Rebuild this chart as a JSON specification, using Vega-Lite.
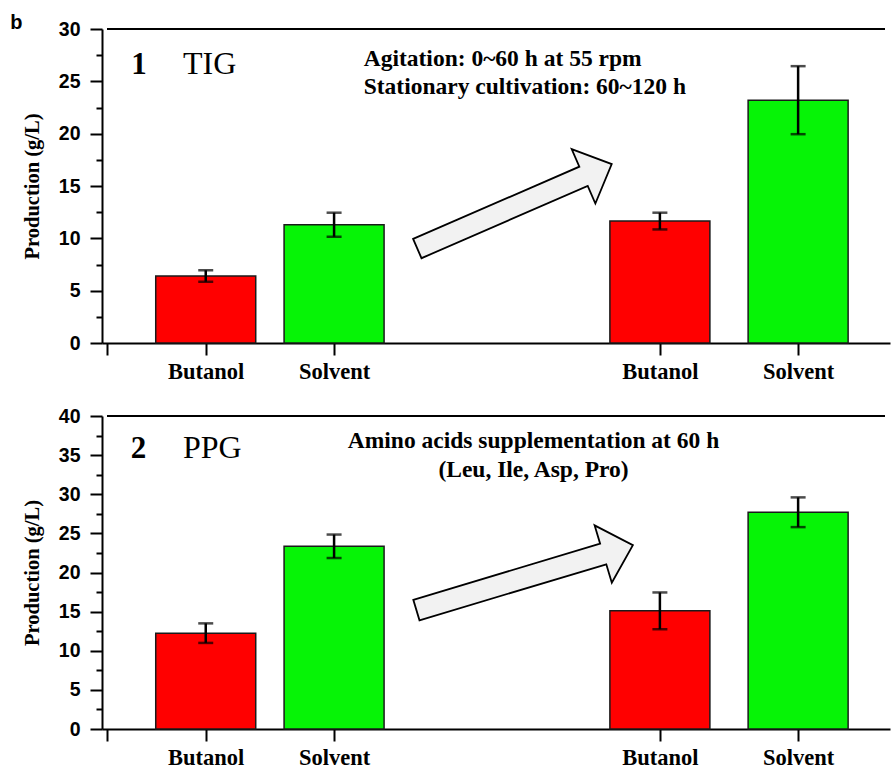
{
  "$schema": "https://vega.github.io/schema/vega-lite/v6.json",
  "background": "white",
  "padding": {"left": 10, "top": 13, "right": 1, "bottom": 0},
  "title": {"text": "b", "anchor": "start", "frame": "bounds", "font": "Liberation Sans", "fontSize": 20, "fontWeight": "bold", "color": "black", "dx": -12, "offset": -14},
  "config": {
    "view": {"stroke": null},
    "axis": {"domainColor": "black", "domainWidth": 2, "tickColor": "black", "tickWidth": 2, "labelColor": "black", "titleColor": "black", "grid": false, "labelOverlap": false, "labelFlush": false}
  },
  "datasets": {
    "production": [
      {"panel": 1, "stage": "before", "product": "Butanol", "slot": 1, "value": 6.4, "err": 0.55},
      {"panel": 1, "stage": "before", "product": "Solvent", "slot": 2.3, "value": 11.3, "err": 1.15},
      {"panel": 1, "stage": "after", "product": "Butanol", "slot": 5.6, "value": 11.65, "err": 0.8},
      {"panel": 1, "stage": "after", "product": "Solvent", "slot": 7, "value": 23.2, "err": 3.25},
      {"panel": 2, "stage": "before", "product": "Butanol", "slot": 1, "value": 12.25, "err": 1.25},
      {"panel": 2, "stage": "before", "product": "Solvent", "slot": 2.3, "value": 23.35, "err": 1.5},
      {"panel": 2, "stage": "after", "product": "Butanol", "slot": 5.6, "value": 15.1, "err": 2.35},
      {"panel": 2, "stage": "after", "product": "Solvent", "slot": 7, "value": 27.7, "err": 1.9}
    ]
  },
  "spacing": 23,
  "vconcat": [
    {
      "width": 788,
      "height": 314,
      "layer": [
        {
          "data": {"name": "production"},
          "transform": [{"filter": "datum.panel === 1"}],
          "mark": {"type": "bar", "size": 100, "stroke": "#1a1a1a", "strokeWidth": 1.5},
          "encoding": {
            "x": {"field": "slot", "type": "quantitative", "scale": {"domain": [0, 7.88], "nice": false, "zero": false},
              "axis": {"title": null, "values": [0, 1, 2.3, 5.6, 7], "tickCount": 50, "labelExpr": "datum.value == 1 || datum.value == 5.6 ? 'Butanol' : (datum.value == 0 ? '' : 'Solvent')", "tickSize": 12, "labelFont": "Liberation Serif", "labelFontSize": 22.5, "labelFontWeight": "bold", "labelPadding": 5}},
            "y": {"field": "value", "type": "quantitative", "scale": {"domain": [0, 30], "nice": false},
              "title": "Production (g/L)",
              "axis": {"values": [0, 2.5, 5, 7.5, 10, 12.5, 15, 17.5, 20, 22.5, 25, 27.5, 30], "tickCount": 50, "labelExpr": "datum.value % 5 === 0 ? format(datum.value, 'd') : ''", "tickSize": {"condition": {"test": "datum.value % 5 === 0", "value": 12}, "value": 6}, "labelFont": "Liberation Sans", "labelFontSize": 19.5, "labelFontWeight": "bold", "labelPadding": 10, "titleFont": "Liberation Serif", "titleFontSize": 20.5, "titleFontWeight": "bold", "titlePadding": 16}},
            "color": {"field": "product", "type": "nominal", "scale": {"domain": ["Butanol", "Solvent"], "range": ["#ff0000", "#06f406"]}, "legend": null}
          }
        },
        {
          "data": {"name": "production"},
          "transform": [{"filter": "datum.panel === 1"}],
          "mark": {"type": "errorbar", "color": "black", "ticks": {"size": 15, "thickness": 2.5, "color": "black"}, "rule": {"strokeWidth": 2.5, "color": "black"}},
          "encoding": {
            "x": {"field": "slot", "type": "quantitative", "scale": {"domain": [0, 7.88], "nice": false, "zero": false},
              "axis": {"title": null, "values": [0, 1, 2.3, 5.6, 7], "tickCount": 50, "labelExpr": "datum.value == 1 || datum.value == 5.6 ? 'Butanol' : (datum.value == 0 ? '' : 'Solvent')", "tickSize": 12, "labelFont": "Liberation Serif", "labelFontSize": 22.5, "labelFontWeight": "bold", "labelPadding": 5}},
            "y": {"field": "value", "type": "quantitative", "scale": {"domain": [0, 30], "nice": false},
              "title": "Production (g/L)",
              "axis": {"values": [0, 2.5, 5, 7.5, 10, 12.5, 15, 17.5, 20, 22.5, 25, 27.5, 30], "tickCount": 50, "labelExpr": "datum.value % 5 === 0 ? format(datum.value, 'd') : ''", "tickSize": {"condition": {"test": "datum.value % 5 === 0", "value": 12}, "value": 6}, "labelFont": "Liberation Sans", "labelFontSize": 19.5, "labelFontWeight": "bold", "labelPadding": 10, "titleFont": "Liberation Serif", "titleFontSize": 20.5, "titleFontWeight": "bold", "titlePadding": 16}},
            "yError": {"field": "err"}
          }
        },
        {
          "data": {"values": [{}]},
          "mark": {"type": "rule", "color": "black", "strokeWidth": 2},
          "encoding": {"x": {"datum": 0}, "x2": {"datum": 7.88}, "y": {"datum": 30}}
        },
        {
          "data": {"values": [{}]},
          "mark": {"type": "text", "text": "1", "font": "Liberation Serif", "fontSize": 31, "fontWeight": "bold", "align": "center", "baseline": "alphabetic", "color": "black"},
          "encoding": {"x": {"datum": 0.325}, "y": {"datum": 25.7}}
        },
        {
          "data": {"values": [{}]},
          "mark": {"type": "text", "text": "TIG", "font": "Liberation Serif", "fontSize": 32, "fontWeight": "normal", "align": "left", "baseline": "alphabetic", "color": "black"},
          "encoding": {"x": {"datum": 0.77}, "y": {"datum": 25.7}}
        },
        {
          "data": {"values": [{}]},
          "mark": {"type": "text", "text": ["Agitation: 0~60 h at 55 rpm", "Stationary cultivation: 60~120 h"], "lineHeight": 28, "font": "Liberation Serif", "fontSize": 23.5, "fontWeight": "bold", "align": "left", "baseline": "alphabetic", "color": "black"},
          "encoding": {"x": {"datum": 2.6}, "y": {"datum": 26.46}}
        },
        {
          "data": {"values": [{}]},
          "mark": {"type": "point", "shape": "M-1,-0.099L0.71,-0.099L0.71,-0.28L1,0L0.71,0.28L0.71,0.099L-1,0.099Z", "size": 44944, "angle": -23.5, "filled": true, "fill": "#f2f2f2", "stroke": "black", "strokeWidth": 1.8, "opacity": 1},
          "encoding": {"x": {"datum": 4.1275}, "y": {"datum": 13.06}}
        }
      ]
    },
    {
      "width": 788,
      "height": 313,
      "layer": [
        {
          "data": {"name": "production"},
          "transform": [{"filter": "datum.panel === 2"}],
          "mark": {"type": "bar", "size": 100, "stroke": "#1a1a1a", "strokeWidth": 1.5},
          "encoding": {
            "x": {"field": "slot", "type": "quantitative", "scale": {"domain": [0, 7.88], "nice": false, "zero": false},
              "axis": {"title": null, "values": [0, 1, 2.3, 5.6, 7], "tickCount": 50, "labelExpr": "datum.value == 1 || datum.value == 5.6 ? 'Butanol' : (datum.value == 0 ? '' : 'Solvent')", "tickSize": 12, "labelFont": "Liberation Serif", "labelFontSize": 22.5, "labelFontWeight": "bold", "labelPadding": 5}},
            "y": {"field": "value", "type": "quantitative", "scale": {"domain": [0, 40], "nice": false},
              "title": "Production (g/L)",
              "axis": {"values": [0, 2.5, 5, 7.5, 10, 12.5, 15, 17.5, 20, 22.5, 25, 27.5, 30, 32.5, 35, 37.5, 40], "tickCount": 50, "labelExpr": "datum.value % 5 === 0 ? format(datum.value, 'd') : ''", "tickSize": {"condition": {"test": "datum.value % 5 === 0", "value": 12}, "value": 6}, "labelFont": "Liberation Sans", "labelFontSize": 19.5, "labelFontWeight": "bold", "labelPadding": 10, "titleFont": "Liberation Serif", "titleFontSize": 20.5, "titleFontWeight": "bold", "titlePadding": 16}},
            "color": {"field": "product", "type": "nominal", "scale": {"domain": ["Butanol", "Solvent"], "range": ["#ff0000", "#06f406"]}, "legend": null}
          }
        },
        {
          "data": {"name": "production"},
          "transform": [{"filter": "datum.panel === 2"}],
          "mark": {"type": "errorbar", "color": "black", "ticks": {"size": 15, "thickness": 2.5, "color": "black"}, "rule": {"strokeWidth": 2.5, "color": "black"}},
          "encoding": {
            "x": {"field": "slot", "type": "quantitative", "scale": {"domain": [0, 7.88], "nice": false, "zero": false},
              "axis": {"title": null, "values": [0, 1, 2.3, 5.6, 7], "tickCount": 50, "labelExpr": "datum.value == 1 || datum.value == 5.6 ? 'Butanol' : (datum.value == 0 ? '' : 'Solvent')", "tickSize": 12, "labelFont": "Liberation Serif", "labelFontSize": 22.5, "labelFontWeight": "bold", "labelPadding": 5}},
            "y": {"field": "value", "type": "quantitative", "scale": {"domain": [0, 40], "nice": false},
              "title": "Production (g/L)",
              "axis": {"values": [0, 2.5, 5, 7.5, 10, 12.5, 15, 17.5, 20, 22.5, 25, 27.5, 30, 32.5, 35, 37.5, 40], "tickCount": 50, "labelExpr": "datum.value % 5 === 0 ? format(datum.value, 'd') : ''", "tickSize": {"condition": {"test": "datum.value % 5 === 0", "value": 12}, "value": 6}, "labelFont": "Liberation Sans", "labelFontSize": 19.5, "labelFontWeight": "bold", "labelPadding": 10, "titleFont": "Liberation Serif", "titleFontSize": 20.5, "titleFontWeight": "bold", "titlePadding": 16}},
            "yError": {"field": "err"}
          }
        },
        {
          "data": {"values": [{}]},
          "mark": {"type": "rule", "color": "black", "strokeWidth": 2},
          "encoding": {"x": {"datum": 0}, "x2": {"datum": 7.88}, "y": {"datum": 40}}
        },
        {
          "data": {"values": [{}]},
          "mark": {"type": "text", "text": "2", "font": "Liberation Serif", "fontSize": 31, "fontWeight": "bold", "align": "center", "baseline": "alphabetic", "color": "black"},
          "encoding": {"x": {"datum": 0.32}, "y": {"datum": 34.6}}
        },
        {
          "data": {"values": [{}]},
          "mark": {"type": "text", "text": "PPG", "font": "Liberation Serif", "fontSize": 32, "fontWeight": "normal", "align": "left", "baseline": "alphabetic", "color": "black"},
          "encoding": {"x": {"datum": 0.77}, "y": {"datum": 34.6}}
        },
        {
          "data": {"values": [{}]},
          "mark": {"type": "text", "text": ["Amino acids supplementation at 60 h", "(Leu, Ile,  Asp, Pro)"], "lineHeight": 29, "font": "Liberation Serif", "fontSize": 23.5, "fontWeight": "bold", "align": "center", "baseline": "alphabetic", "color": "black"},
          "encoding": {"x": {"datum": 4.32}, "y": {"datum": 35.89}}
        },
        {
          "data": {"values": [{}]},
          "mark": {"type": "point", "shape": "M-1,-0.095L0.726,-0.095L0.726,-0.265L1,0L0.726,0.265L0.726,0.095L-1,0.095Z", "size": 51076, "angle": -16.7, "filled": true, "fill": "#f2f2f2", "stroke": "black", "strokeWidth": 1.8, "opacity": 1},
          "encoding": {"x": {"datum": 4.23}, "y": {"datum": 19.35}}
        }
      ]
    }
  ]
}
